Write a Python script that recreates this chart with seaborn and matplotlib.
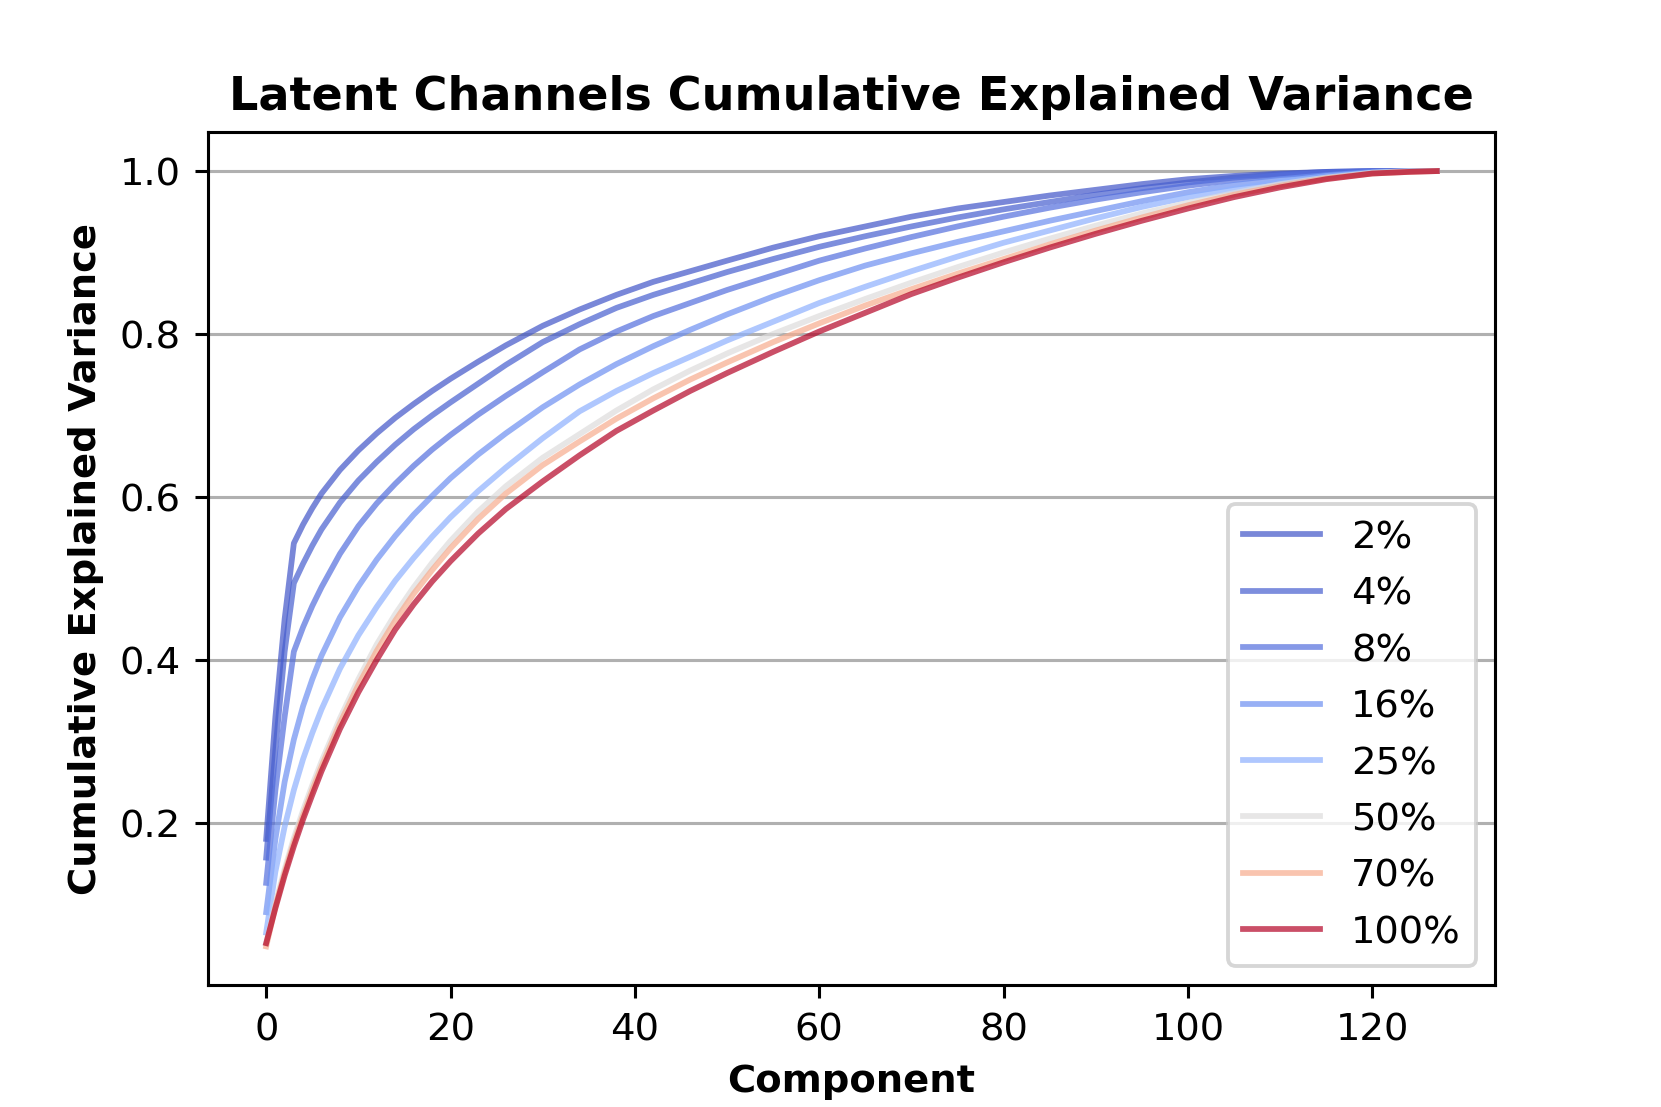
import numpy as np
import pandas as pd
import seaborn as sns
import matplotlib.pyplot as plt

components = [0, 1, 2, 3, 4, 5, 6, 8, 10, 12, 14, 16, 18, 20, 23, 26, 30, 34, 38,
              42, 46, 50, 55, 60, 65, 70, 75, 80, 85, 90, 95, 100, 105, 110, 115,
              120, 124, 127]

percents = [2, 4, 8, 16, 25, 50, 70, 100]

cum_2 = [0.180, 0.330, 0.450, 0.543, 0.566, 0.586, 0.604, 0.633, 0.657, 0.678,
         0.697, 0.714, 0.730, 0.745, 0.766, 0.786, 0.810, 0.830, 0.848, 0.864,
         0.877, 0.890, 0.906, 0.920, 0.932, 0.944, 0.954, 0.962, 0.970, 0.977,
         0.984, 0.990, 0.994, 0.997, 0.999, 1.000, 1.000, 1.000]
cum_4 = [0.157, 0.290, 0.410, 0.494, 0.518, 0.540, 0.560, 0.593, 0.620, 0.643,
         0.664, 0.683, 0.700, 0.716, 0.739, 0.762, 0.790, 0.812, 0.832, 0.848,
         0.862, 0.876, 0.892, 0.907, 0.920, 0.932, 0.943, 0.953, 0.962, 0.971,
         0.979, 0.986, 0.992, 0.996, 0.999, 1.000, 1.000, 1.000]
cum_8 = [0.126, 0.240, 0.330, 0.410, 0.440, 0.466, 0.489, 0.530, 0.564, 0.592,
         0.616, 0.638, 0.658, 0.676, 0.701, 0.724, 0.753, 0.781, 0.803, 0.822,
         0.838, 0.854, 0.872, 0.890, 0.905, 0.919, 0.932, 0.944, 0.955, 0.965,
         0.974, 0.982, 0.989, 0.995, 0.998, 1.000, 1.000, 1.000]
cum_16 = [0.090, 0.180, 0.250, 0.302, 0.343, 0.376, 0.405, 0.452, 0.490, 0.523,
          0.552, 0.578, 0.601, 0.623, 0.652, 0.678, 0.710, 0.738, 0.763, 0.785,
          0.805, 0.824, 0.846, 0.866, 0.884, 0.899, 0.913, 0.926, 0.939, 0.951,
          0.963, 0.974, 0.983, 0.990, 0.995, 0.999, 1.000, 1.000]
cum_25 = [0.065, 0.140, 0.195, 0.240, 0.278, 0.310, 0.339, 0.389, 0.430, 0.465,
          0.497, 0.525, 0.551, 0.575, 0.607, 0.636, 0.672, 0.705, 0.730, 0.752,
          0.772, 0.792, 0.815, 0.838, 0.858, 0.877, 0.895, 0.912, 0.927, 0.942,
          0.956, 0.968, 0.978, 0.987, 0.994, 0.998, 1.000, 1.000]
cum_50 = [0.052, 0.100, 0.143, 0.181, 0.215, 0.246, 0.275, 0.328, 0.376, 0.419,
          0.456, 0.489, 0.519, 0.546, 0.582, 0.613, 0.648, 0.677, 0.706, 0.732,
          0.755, 0.776, 0.800, 0.822, 0.843, 0.863, 0.882, 0.900, 0.917, 0.933,
          0.948, 0.961, 0.973, 0.984, 0.992, 0.998, 1.000, 1.000]
cum_70 = [0.048, 0.097, 0.139, 0.176, 0.209, 0.240, 0.269, 0.322, 0.369, 0.411,
          0.448, 0.481, 0.510, 0.537, 0.573, 0.604, 0.639, 0.668, 0.696, 0.721,
          0.744, 0.765, 0.790, 0.813, 0.835, 0.855, 0.874, 0.892, 0.910, 0.927,
          0.943, 0.958, 0.971, 0.982, 0.991, 0.997, 0.999, 1.000]
cum_100 = [0.052, 0.095, 0.135, 0.171, 0.204, 0.234, 0.263, 0.315, 0.360, 0.400,
           0.437, 0.468, 0.496, 0.521, 0.555, 0.585, 0.619, 0.651, 0.681, 0.706,
           0.730, 0.752, 0.778, 0.803, 0.826, 0.849, 0.869, 0.888, 0.906, 0.923,
           0.939, 0.954, 0.968, 0.980, 0.990, 0.997, 0.999, 1.000]

all_curves = [cum_2, cum_4, cum_8, cum_16, cum_25, cum_50, cum_70, cum_100]
labels = [f"{p}%" for p in percents]

#long form table for seaborn
rows = []
for lab, vals in zip(labels, all_curves):
    for c, v in zip(components, vals):
        rows.append({'component': c, 'cum_var': v, 'ratio': lab})
df = pd.DataFrame(rows)

cmap = plt.get_cmap('coolwarm')
pal = {lab: cmap(p / 100) for lab, p in zip(labels, percents)}

fig, ax = plt.subplots(figsize=(6, 4))
sns.lineplot(data=df, x='component', y='cum_var', hue='ratio', hue_order=labels,
             palette=pal, alpha=0.7, linewidth=1.5, errorbar=None, ax=ax)
ax.grid(axis='y')
ax.set_title('Latent Channels Cumulative Explained Variance', fontsize=12, fontweight='bold')
ax.set_xlabel('Component', fontweight='bold')
ax.set_ylabel('Cumulative Explained Variance', fontweight='bold')
sns.move_legend(ax, 'lower right', title=None, labelspacing=0.53)

fig.savefig('out.png', dpi=276.9)
